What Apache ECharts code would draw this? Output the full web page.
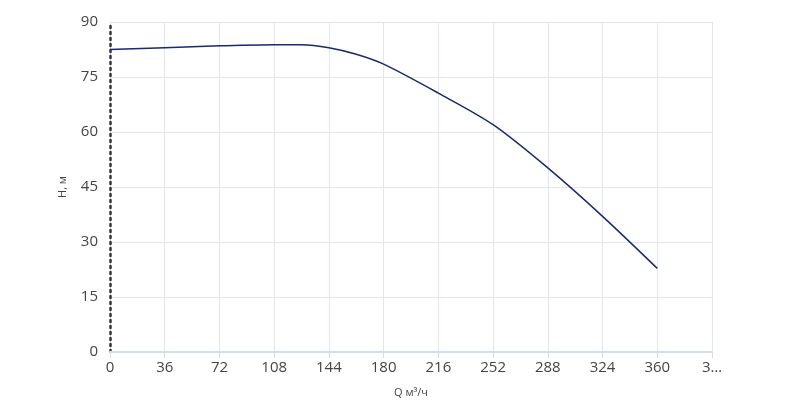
<!DOCTYPE html><html><head><meta charset="utf-8"><script src="https://cdn.jsdelivr.net/npm/echarts@6/dist/echarts.min.js"></script></head><body style="margin:0"><div id="c" style="width:800px;height:408px"></div><script>
const qValues=[0,36,72,108,126,144,162,180,216,252,288,324,360];
const hValues=[82.5,83,83.5,83.8,83.8,83,81.2,78.5,70.6,62,50.2,37,22.8];
const yTicks=[0,15,30,45,60,75,90];
const ch=echarts.init(document.getElementById('c'));
ch.setOption({
grid:{left:110,right:88,top:22,bottom:56},
xAxis:{type:'value',min:0,max:396,interval:36,name:'Q м³/ч',nameLocation:'middle',nameGap:35,nameTextStyle:{color:'#444',fontSize:11,fontFamily:'Open Sans'},
axisLine:{show:true,lineStyle:{color:'#d4dcf0',width:2}},axisTick:{show:true,length:6,lineStyle:{color:'#d4dcf0'}},
axisLabel:{color:'#444',fontSize:15,fontFamily:'Open Sans',margin:8,formatter:v=>v===396?'3…':String(v)},
splitLine:{show:true,lineStyle:{color:'#e0e6f3'}}},
yAxis:{type:'value',min:0,max:90,interval:15,name:'H, м',nameLocation:'middle',nameGap:42,nameTextStyle:{color:'#444',fontSize:11,fontFamily:'Open Sans'},
axisLine:{show:true,lineStyle:{color:'#333',width:2.5,type:[2,4]}},axisTick:{show:false},
axisLabel:{color:'#444',fontSize:15,fontFamily:'Open Sans',margin:12,formatter:v=>yTicks.includes(v)?String(v):''},
splitLine:{show:true,lineStyle:{color:'#e6e6e6'}}},
series:[{type:'line',data:qValues.map((q,i)=>[q,hValues[i]]),smooth:0.3,showSymbol:false,lineStyle:{color:'#1a2a6c',width:1.5}}]
});
</script></body></html>
